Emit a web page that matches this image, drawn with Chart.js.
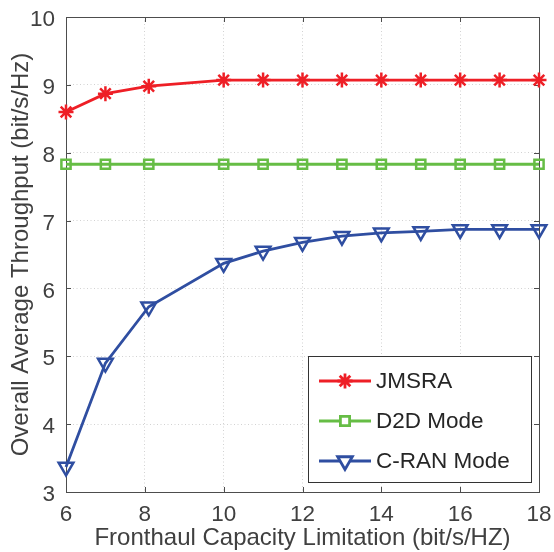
<!DOCTYPE html>
<html>
<head>
<meta charset="utf-8">
<script src="https://cdn.jsdelivr.net/npm/chart.js@4.4.1/dist/chart.umd.min.js"></script>
<style>
  html, body { margin: 0; padding: 0; background: #fff; }
  #wrap { width: 554px; height: 552px; }
</style>
</head>
<body>
<div id="wrap"><canvas id="chart" width="554" height="552"></canvas></div>
<script>
// values
const capacity = [6, 7, 8.1, 10, 11, 12, 13, 14, 15, 16, 17, 18];
const jmsra = [8.6, 8.87, 8.98, 9.07, 9.07, 9.07, 9.07, 9.07, 9.07, 9.07, 9.07, 9.07];
const d2d = [7.83, 7.83, 7.83, 7.83, 7.83, 7.83, 7.83, 7.83, 7.83, 7.83, 7.83, 7.83];
const cran = [3.37, 4.9, 5.73, 6.37, 6.55, 6.68, 6.77, 6.82, 6.84, 6.87, 6.87, 6.87];
const xTicks = [6, 8, 10, 12, 14, 16, 18];
const yTicks = [3, 4, 5, 6, 7, 8, 9, 10];

const FONT = "'Liberation Sans', Arial, sans-serif";
const RED = '#ee1f26', GREEN = '#66bd45', BLUE = '#2f4ea1';
const TEXT = '#404040';

const toPoints = ys => capacity.map((x, i) => ({x: x, y: ys[i]}));

const series = [
    {label: 'JMSRA', data: jmsra, color: RED, pointStyle: 'star', radius: 7.5, rotation: 0},
    {label: 'D2D Mode', data: d2d, color: GREEN, pointStyle: 'rect', radius: 6.5, rotation: 0},
    {label: 'C-RAN Mode', data: cran, color: BLUE, pointStyle: 'triangle', radius: 8.5, rotation: 180}
];

// box around the axes, ticks pointing inward like MATLAB
const frame = {
    id: 'frame',
    beforeDatasetsDraw(chart) {
        const {ctx, chartArea: a, scales} = chart;
        ctx.save();
        ctx.strokeStyle = '#4d4d4d';
        ctx.lineWidth = 1;
        ctx.beginPath();
        xTicks.forEach(v => {
            const px = Math.round(scales.x.getPixelForValue(v)) + 0.5;
            ctx.moveTo(px, a.bottom); ctx.lineTo(px, a.bottom - 5);
            ctx.moveTo(px, a.top); ctx.lineTo(px, a.top + 5);
        });
        yTicks.forEach(v => {
            const py = Math.round(scales.y.getPixelForValue(v)) + 0.5;
            ctx.moveTo(a.left, py); ctx.lineTo(a.left + 5, py);
            ctx.moveTo(a.right, py); ctx.lineTo(a.right - 5, py);
        });
        ctx.stroke();
        ctx.strokeRect(Math.round(a.left) + 0.5, Math.round(a.top) + 0.5,
            Math.round(a.right - a.left), Math.round(a.bottom - a.top));
        ctx.restore();
    }
};

const legendBox = {
    id: 'legendBox',
    afterDatasetsDraw(chart) {
        const ctx = chart.ctx;
        const box = {x: 308, y: 356, w: 223, h: 126};
        ctx.save();
        ctx.fillStyle = '#fff';
        ctx.fillRect(box.x, box.y, box.w, box.h);
        ctx.strokeStyle = '#333';
        ctx.lineWidth = 1;
        ctx.strokeRect(box.x + 0.5, box.y + 0.5, box.w, box.h);
        series.forEach((s, i) => {
            const y = 381 + i * 40;
            ctx.strokeStyle = s.color;
            ctx.lineWidth = 2.8;
            ctx.beginPath();
            ctx.moveTo(319, y); ctx.lineTo(371, y);
            ctx.stroke();
            ctx.fillStyle = '#fff';
            Chart.helpers.drawPoint(ctx, {
                pointStyle: s.pointStyle, radius: s.radius, rotation: s.rotation, borderWidth: 2.5
            }, 345, y);
            ctx.fillStyle = '#262626';
            ctx.font = '22.5px ' + FONT;
            ctx.textBaseline = 'middle';
            ctx.textAlign = 'left';
            ctx.fillText(s.label, 376, y + 1);
        });
        ctx.restore();
    }
};

const noPad = s => { s.paddingTop = 0; s.paddingBottom = 0; s.paddingLeft = 0; s.paddingRight = 0; };

new Chart(document.getElementById('chart'), {
    type: 'line',
    data: {
        datasets: series.map(s => ({
            label: s.label,
            data: toPoints(s.data),
            borderColor: s.color,
            backgroundColor: '#fff',
            borderWidth: 2.8,
            pointStyle: s.pointStyle,
            pointRadius: s.radius,
            pointRotation: s.rotation,
            pointBorderWidth: 2.5,
            pointBorderColor: s.color,
            pointBackgroundColor: 'rgba(255,255,255,0)',
            tension: 0,
            clip: false
        }))
    },
    options: {
        responsive: false,
        animation: false,
        layout: {padding: {left: 0, top: 17, right: 15, bottom: 0}},
        plugins: {legend: {display: false}, tooltip: {enabled: false}},
        scales: {
            x: {
                type: 'linear',
                min: 6, max: 18,
                afterBuildTicks: s => { s.ticks = xTicks.map(v => ({value: v})); },
                afterFit: s => { s.height = 60; noPad(s); },
                grid: {color: '#d2d2d2', drawTicks: false},
                border: {display: false, dash: [1, 2.5]},
                ticks: {color: TEXT, font: {family: FONT, size: 22.5}, padding: 9, maxRotation: 0},
                title: {display: true, text: 'Fronthaul Capacity Limitation (bit/s/HZ)', color: TEXT,
                    font: {family: FONT, size: 24}, padding: {top: 0, bottom: -1}}
            },
            y: {
                min: 3, max: 10,
                afterBuildTicks: s => { s.ticks = yTicks.map(v => ({value: v})); },
                afterFit: s => { s.width = 66; noPad(s); },
                grid: {color: '#d2d2d2', drawTicks: false},
                border: {display: false, dash: [1, 2.5]},
                ticks: {color: TEXT, font: {family: FONT, size: 22.5}, padding: 11, labelOffset: 3},
                title: {display: true, text: 'Overall Average Throughput (bit/s/Hz)', color: TEXT,
                    font: {family: FONT, size: 24}, padding: {top: 7, bottom: 0}}
            }
        }
    },
    plugins: [frame, legendBox]
});
</script>
</body>
</html>
